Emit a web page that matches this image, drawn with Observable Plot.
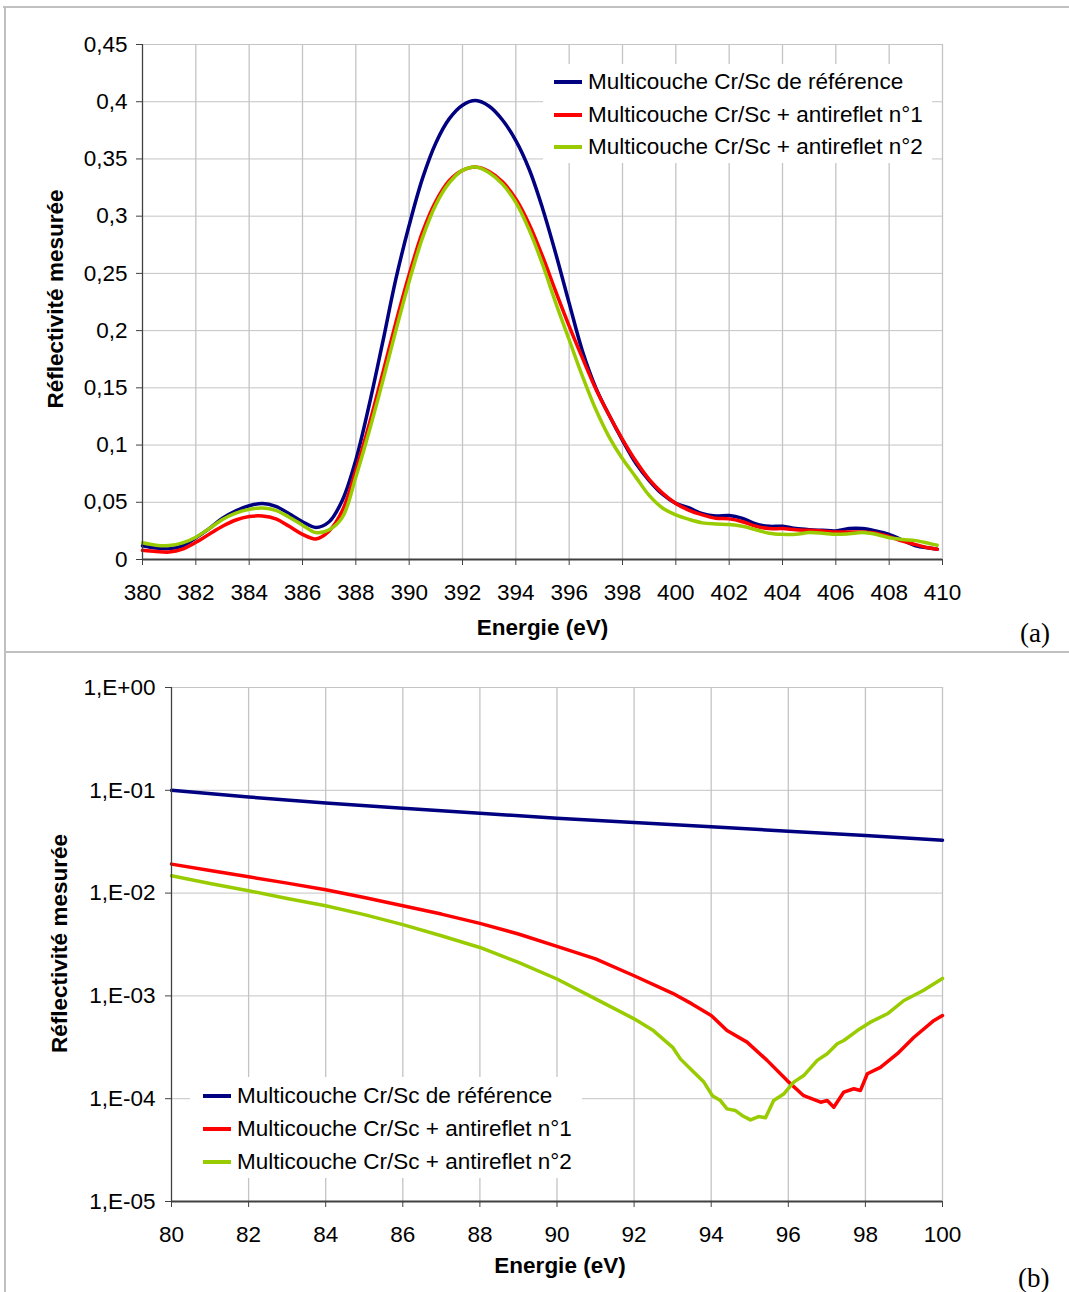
<!DOCTYPE html>
<html><head><meta charset="utf-8">
<script src="https://cdn.jsdelivr.net/npm/d3@7"></script>
<script src="https://cdn.jsdelivr.net/npm/@observablehq/plot@0.6"></script>
<style>
body{margin:0;background:#fff;}
#page{position:relative;width:1069px;height:1292px;overflow:hidden;font-family:"Liberation Sans",Arial,sans-serif;}
.frame{position:absolute;background:#c0c0c0;}
.chart{position:absolute;left:0;}
.legend{position:absolute;background:#fff;font-size:22.5px;color:#000;}
.legend .row{position:absolute;white-space:nowrap;height:32px;line-height:32px;}
.sw{display:inline-block;width:28px;height:4px;vertical-align:middle;margin-right:6px;position:relative;top:-1px;}
.tag{position:absolute;font-family:"Liberation Serif","Times New Roman",serif;font-size:27px;line-height:30px;}
</style></head><body><div id="page"></div>
<script>
// ---------- Chart (a) data ----------
const energyA = [380,380.5,381,381.5,382,382.5,383,383.5,384,384.5,385,385.5,386,386.5,387,387.5,388,388.5,389,389.5,390,390.5,391,391.5,392,392.5,393,393.5,394,394.5,395,395.5,396,396.5,397,397.5,398,398.5,399,399.5,400,400.5,401,401.5,402,402.5,403,403.5,404,404.5,405,405.5,406,406.5,407,407.5,408,408.5,409,409.5,409.8];
const refA = [0.012,0.010,0.0095,0.012,0.019,0.027,0.036,0.0425,0.047,0.049,0.0465,0.040,0.033,0.028,0.033,0.052,0.087,0.135,0.189,0.245,0.292,0.333,0.364,0.385,0.397,0.401,0.396,0.384,0.366,0.341,0.307,0.267,0.224,0.182,0.150,0.126,0.104,0.084,0.069,0.057,0.049,0.045,0.040,0.038,0.0385,0.036,0.031,0.029,0.029,0.027,0.026,0.0255,0.025,0.027,0.027,0.025,0.022,0.017,0.012,0.010,0.009];
const ar1A = [0.008,0.007,0.0065,0.009,0.015,0.022,0.029,0.0345,0.0375,0.038,0.0355,0.029,0.022,0.018,0.025,0.043,0.078,0.118,0.162,0.207,0.249,0.286,0.313,0.331,0.340,0.343,0.339,0.330,0.315,0.293,0.265,0.234,0.204,0.176,0.149,0.126,0.105,0.086,0.070,0.058,0.049,0.043,0.039,0.036,0.0355,0.033,0.029,0.027,0.027,0.026,0.0255,0.025,0.024,0.024,0.024,0.023,0.020,0.016,0.013,0.010,0.009];
const ar2A = [0.0146,0.0125,0.0122,0.0145,0.0195,0.027,0.035,0.0405,0.0438,0.045,0.043,0.037,0.030,0.0235,0.026,0.037,0.072,0.112,0.155,0.200,0.243,0.281,0.310,0.329,0.340,0.343,0.338,0.328,0.312,0.288,0.258,0.224,0.192,0.160,0.131,0.107,0.088,0.072,0.056,0.045,0.039,0.035,0.032,0.031,0.0305,0.029,0.026,0.023,0.022,0.022,0.0235,0.023,0.022,0.0225,0.0235,0.022,0.019,0.0175,0.0165,0.014,0.0125];
const xTicksA = [380,382,384,386,388,390,392,394,396,398,400,402,404,406,408,410];
const yTicksA = [0,0.05,0.1,0.15,0.2,0.25,0.3,0.35,0.4,0.45];
const yTickLabelsA = ["0","0,05","0,1","0,15","0,2","0,25","0,3","0,35","0,4","0,45"];

// ---------- Chart (b) data ----------
const energyRefB = [80,82,84,86,88,90,92,94,96,98,100];
const refB = [0.1,0.0861,0.0753,0.0668,0.0598,0.0535,0.0485,0.0441,0.0400,0.0363,0.0327];
const energyAr1B = [80,81,82,83,84,85,86,87,88,89,90,91,92,93,93.5,94,94.41,94.93,95.45,95.97,96.40,96.84,97.01,97.18,97.44,97.70,97.87,98.05,98.39,98.83,99.26,99.78,100];
const ar1B = [0.01914,0.01660,0.01442,0.01250,0.01076,0.00908,0.00753,0.00625,0.00508,0.00400,0.00303,0.00229,0.00157,0.00106,0.000836,0.000646,0.000460,0.000355,0.000236,0.000150,0.000107,0.0000925,0.0000959,0.0000826,0.000116,0.000125,0.000120,0.000175,0.000202,0.000274,0.000396,0.000577,0.000644];
const energyAr2B = [80,81,82,83,84,85,86,87,88,89,90,91,92,92.5,93,93.2,93.55,93.81,94.03,94.24,94.41,94.63,94.80,95.02,95.23,95.41,95.62,95.88,96.14,96.40,96.75,97.01,97.27,97.44,97.79,98.13,98.57,99.00,99.5,100];
const ar2B = [0.01472,0.01242,0.01054,0.00887,0.00753,0.00617,0.00493,0.00385,0.00296,0.00212,0.00146,0.000935,0.000598,0.000460,0.000316,0.000244,0.000181,0.000145,0.000107,0.0000959,0.0000796,0.0000767,0.0000687,0.0000622,0.0000671,0.0000652,0.0000959,0.000111,0.000145,0.000168,0.000236,0.000274,0.000342,0.000368,0.000460,0.000555,0.000670,0.000902,0.00113,0.00148];
const xTicksB = [80,82,84,86,88,90,92,94,96,98,100];
const yTicksB = [1,0.1,0.01,0.001,0.0001,0.00001];
const yTickLabelsB = ["1,E+00","1,E-01","1,E-02","1,E-03","1,E-04","1,E-05"];

const seriesNames = ["Multicouche Cr/Sc de référence","Multicouche Cr/Sc + antireflet n°1","Multicouche Cr/Sc + antireflet n°2"];
const seriesColors = ["#000080","#ff0000","#99cc00"];
const xLabel = "Energie (eV)";
const yLabel = "Réflectivité mesurée";

// ---------- helpers ----------
const rows = (xs, ys) => xs.map((x, i) => ({x, y: ys[i]}));
const grid = "#c4c4c4";
const axisCol = "#404040";
const font = "Liberation Sans, Arial, sans-serif";
const page = document.getElementById("page");

function frameLine(l, t, w, h) {
  const d = document.createElement("div");
  d.className = "frame";
  Object.assign(d.style, {left: l + "px", top: t + "px", width: w + "px", height: h + "px"});
  page.appendChild(d);
}
function legend(l, t, w, h, rowTops, swLeft) {
  const d = document.createElement("div");
  d.className = "legend";
  Object.assign(d.style, {left: l + "px", top: t + "px", width: w + "px", height: h + "px"});
  seriesNames.forEach((name, i) => {
    const r = document.createElement("div");
    r.className = "row";
    r.style.left = swLeft + "px";
    r.style.top = rowTops[i] + "px";
    const sw = document.createElement("span");
    sw.className = "sw";
    sw.style.background = seriesColors[i];
    r.appendChild(sw);
    r.appendChild(document.createTextNode(name));
    d.appendChild(r);
  });
  page.appendChild(d);
}
function tag(txt, l, t) {
  const d = document.createElement("div");
  d.className = "tag";
  d.style.left = l + "px"; d.style.top = t + "px";
  d.textContent = txt;
  page.appendChild(d);
}

// ---------- Chart (a) ----------
const labA = new Map(yTicksA.map((v, i) => [v, yTickLabelsA[i]]));
const plotA = Plot.plot({
  width: 1069, height: 650,
  marginLeft: 142, marginRight: 127, marginTop: 44, marginBottom: 91,
  style: {fontFamily: font, fontSize: "22.5px", color: "#000", background: "transparent", overflow: "visible"},
  x: {domain: [380, 410], axis: null},
  y: {domain: [0, 0.45], axis: null},
  marks: [
    Plot.gridX(xTicksA, {stroke: grid, strokeOpacity: 1, strokeWidth: 1.3}),
    Plot.gridY(yTicksA, {stroke: grid, strokeOpacity: 1, strokeWidth: 1}),
    Plot.line(rows(energyA, refA), {x: "x", y: "y", stroke: seriesColors[0], strokeWidth: 3.5, curve: "catmull-rom"}),
    Plot.line(rows(energyA, ar1A), {x: "x", y: "y", stroke: seriesColors[1], strokeWidth: 3.5, curve: "catmull-rom"}),
    Plot.line(rows(energyA, ar2A), {x: "x", y: "y", stroke: seriesColors[2], strokeWidth: 3.5, curve: "catmull-rom"}),
    Plot.ruleX([380], {stroke: axisCol, strokeWidth: 1.2}),
    Plot.ruleY([0], {stroke: axisCol, strokeWidth: 2}),
    Plot.axisY(yTicksA, {tickFormat: d => labA.get(d), tickSize: 6, tickPadding: 9, stroke: axisCol, fontSize: 22.5, label: null}),
    Plot.axisX(xTicksA, {tickSize: 6, tickPadding: 19, stroke: axisCol, fontSize: 22.5, label: null}),
    Plot.text([xLabel], {text: d => d, frameAnchor: "bottom", dy: 68, lineAnchor: "middle", textAnchor: "middle", fontWeight: "bold", fontSize: 22.5}),
    Plot.text([yLabel], {text: d => d, frameAnchor: "left", dx: -87, dy: -3, rotate: -90, lineAnchor: "middle", textAnchor: "middle", fontWeight: "bold", fontSize: 22.5})
  ]
});
plotA.classList.add("chart");
plotA.style.top = "0px";
page.appendChild(plotA);

// ---------- Chart (b) ----------
const labB = new Map(yTicksB.map((v, i) => [v, yTickLabelsB[i]]));
const plotB = Plot.plot({
  width: 1069, height: 640,
  marginLeft: 171, marginRight: 127, marginTop: 35, marginBottom: 91,
  style: {fontFamily: font, fontSize: "22.5px", color: "#000", background: "transparent", overflow: "visible"},
  x: {domain: [80, 100], axis: null},
  y: {type: "log", domain: [1e-5, 1], axis: null},
  marks: [
    Plot.gridX(xTicksB, {stroke: grid, strokeOpacity: 1, strokeWidth: 1.3}),
    Plot.gridY(yTicksB, {stroke: grid, strokeOpacity: 1, strokeWidth: 1}),
    Plot.line(rows(energyRefB, refB), {x: "x", y: "y", stroke: seriesColors[0], strokeWidth: 3.5}),
    Plot.line(rows(energyAr1B, ar1B), {x: "x", y: "y", stroke: seriesColors[1], strokeWidth: 3.5}),
    Plot.line(rows(energyAr2B, ar2B), {x: "x", y: "y", stroke: seriesColors[2], strokeWidth: 3.5}),
    Plot.ruleX([80], {stroke: axisCol, strokeWidth: 1.2}),
    Plot.ruleY([1e-5], {stroke: axisCol, strokeWidth: 2}),
    Plot.axisY(yTicksB, {tickFormat: d => labB.get(d), tickSize: 6, tickPadding: 10, stroke: axisCol, fontSize: 22.5, label: null}),
    Plot.axisX(xTicksB, {tickSize: 6, tickPadding: 19, stroke: axisCol, fontSize: 22.5, label: null}),
    Plot.text([xLabel], {text: d => d, frameAnchor: "bottom", dy: 64, dx: 3, lineAnchor: "middle", textAnchor: "middle", fontWeight: "bold", fontSize: 22.5}),
    Plot.text([yLabel], {text: d => d, frameAnchor: "left", dx: -112, dy: -1, rotate: -90, lineAnchor: "middle", textAnchor: "middle", fontWeight: "bold", fontSize: 22.5})
  ]
});
plotB.classList.add("chart");
plotB.style.top = "652px";
page.appendChild(plotB);

// ---------- frame, legends, tags ----------
frameLine(3, 6, 1066, 2);
frameLine(4, 6, 2, 1286);
frameLine(4, 651, 1065, 2);
legend(543, 64, 389, 99, [2, 35, 67], 11);
legend(190, 1077, 392, 101, [3, 36, 69], 13);
tag("(a)", 1020, 618);
tag("(b)", 1018, 1263);
</script>
</body></html>
